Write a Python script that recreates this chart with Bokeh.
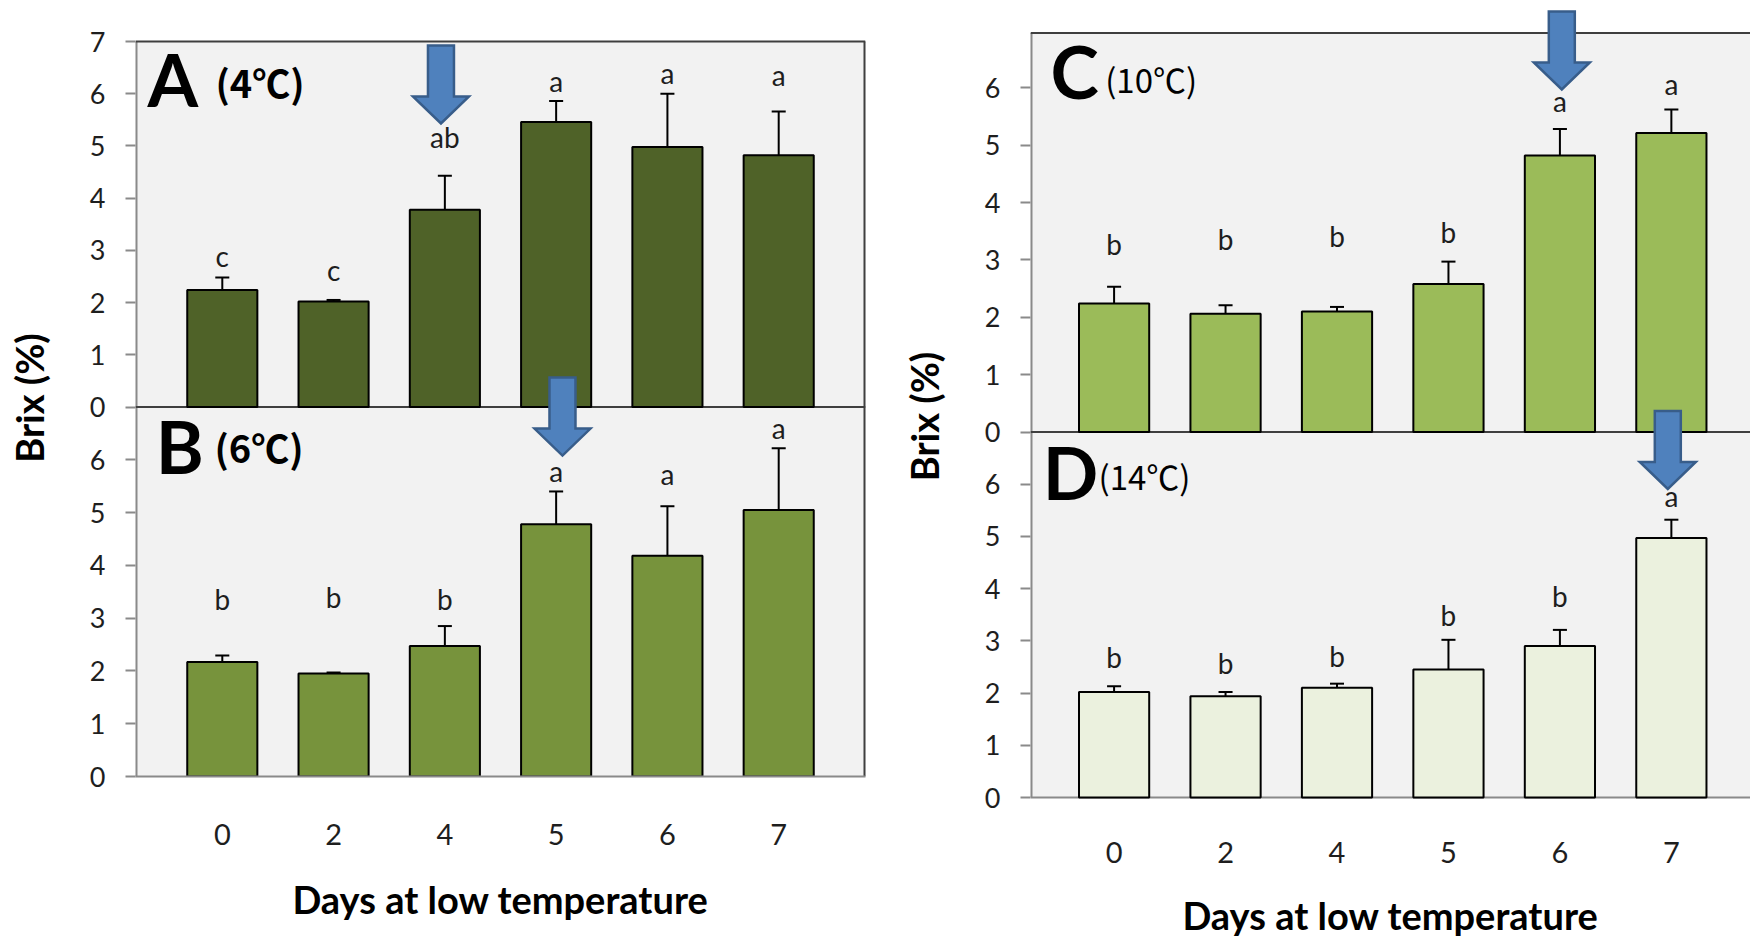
from bokeh.core.properties import value
from bokeh.embed import file_html
from bokeh.layouts import row
from bokeh.models import FixedTicker, Range1d
from bokeh.plotting import figure
from bokeh.resources import INLINE

# Days at low temperature (categories shared by all panels)
days = ["0", "2", "4", "5", "6", "7"]

# Mean Brix (%) with its error, plus significance groups, per storage temperature
brix_4C = [2.24, 2.02, 3.78, 5.46, 4.98, 4.82]
err_4C = [0.24, 0.03, 0.65, 0.40, 1.02, 0.84]
sig_4C = ["c", "c", "ab", "a", "a", "a"]

brix_6C = [2.17, 1.95, 2.47, 4.78, 4.18, 5.05]
err_6C = [0.12, 0.02, 0.38, 0.62, 0.94, 1.17]
sig_6C = ["b", "b", "b", "a", "a", "a"]

brix_10C = [2.24, 2.06, 2.10, 2.58, 4.82, 5.21]
err_10C = [0.29, 0.15, 0.08, 0.39, 0.46, 0.41]
sig_10C = ["b", "b", "b", "b", "a", "a"]

brix_14C = [2.02, 1.94, 2.10, 2.45, 2.90, 4.97]
err_14C = [0.11, 0.08, 0.08, 0.57, 0.31, 0.35]
sig_14C = ["b", "b", "b", "b", "b", "a"]

# Baselines of the significance letters (Brix units of each panel)
sig_y_4C = [2.68, 2.42, 4.96, 6.03, 6.19, 6.14]
sig_y_6C = [3.16, 3.19, 3.16, 5.58, 5.53, 6.40]
sig_y_10C = [3.08, 3.18, 3.22, 3.29, 5.58, 5.87]
sig_y_14C = [2.48, 2.36, 2.51, 3.28, 3.65, 5.56]

# ---- styling -------------------------------------------------------------
CANVAS_H = 937
FONT = "Lato"
SUB_FONT = "Noto Sans CJK KR"
INK = "#1e1e1e"
DARK = "#3f3f3f"
GRAY = "#8a8a8a"
PANEL_BG = "#f2f2f2"
ARROW_FILL = "#4f81bd"
ARROW_EDGE = "#385d8a"
BAR_W = 0.63
CAP_HALF = 0.063
# em offset between a text's anchor point and its baseline, per font
BASELINE_SHIFT = {FONT: 0.39, SUB_FONT: 0.436}


def build_column(x_left, width, frame_left, frame_right, frame_top, frame_bottom,
                 x_start, x_end, panels, tick_standoff, ytitle_standoff,
                 xtitle_standoff, bottom_on_edge):
    frame_w = frame_right - frame_left
    frame_h = frame_bottom - frame_top
    x_ppu = frame_w / (x_end - x_start)

    p = figure(
        title=None,
        frame_width=frame_w, frame_height=frame_h,
        frame_align=False,
        min_border_left=frame_left - x_left,
        min_border_right=x_left + width - frame_right,
        min_border_top=frame_top,
        min_border_bottom=CANVAS_H - frame_bottom,
        x_range=Range1d(x_start, x_end),
        y_range=Range1d(0, frame_h),
        output_backend="svg", toolbar_location=None,
        background_fill_color="white", border_fill_color="white",
        outline_line_color=None,
    )
    p.grid.visible = False

    xs = list(range(len(days)))
    extra = {}
    tick_pos, tick_lbl = [], {}
    for pn in panels:
        ppu = (pn["y_bottom"] - pn["y_top"]) / pn["vmax"]
        zero = frame_bottom - pn["y_bottom"]
        pn["ppu"] = ppu
        extra[pn["key"]] = Range1d(-zero / ppu, (frame_h - zero) / ppu)
        for k in range(pn["nticks"]):
            pos = round(zero + k * ppu, 3)
            tick_pos.append(pos)
            tick_lbl[pos] = str(k)
    p.extra_y_ranges = extra

    def lift(size_px, pn, font=FONT):
        return BASELINE_SHIFT[font] * size_px / pn["ppu"]

    # panel backgrounds and frame lines
    for pn in panels:
        p.quad(left=[x_start], right=[x_end], bottom=[0], top=[pn["vmax"]],
               y_range_name=pn["key"], fill_color=PANEL_BG, line_color=None)
    top, bot = panels
    for pn in panels:
        p.segment(x0=[x_start], y0=[0], x1=[x_start], y1=[pn["vmax"]],
                  y_range_name=pn["key"], line_color=GRAY, line_width=4)
    if not bottom_on_edge:
        p.segment(x0=[x_start], y0=[0], x1=[x_end], y1=[0],
                  y_range_name=bot["key"], line_color=GRAY, line_width=2)
    p.segment(x0=[x_start], y0=[top["vmax"]], x1=[x_end], y1=[top["vmax"]],
              y_range_name=top["key"], line_color=DARK, line_width=2)
    p.segment(x0=[x_start], y0=[0], x1=[x_end], y1=[0],
              y_range_name=top["key"], line_color=DARK, line_width=2)
    if x_left + width > frame_right:
        p.segment(x0=[x_end], y0=[0], x1=[x_end], y1=[top["vmax"]],
                  y_range_name=top["key"], line_color=DARK, line_width=4)
        p.segment(x0=[x_end], y0=[0], x1=[x_end], y1=[bot["vmax"]],
                  y_range_name=bot["key"], line_color=DARK, line_width=4)

    for pn in panels:
        key = pn["key"]
        tops = [m + e for m, e in zip(pn["means"], pn["errs"])]
        p.vbar(x=xs, width=BAR_W, bottom=0, top=pn["means"], y_range_name=key,
               fill_color=pn["fill"], line_color="black", line_width=2)
        p.segment(x0=xs, y0=pn["means"], x1=xs, y1=tops, y_range_name=key,
                  line_color="black", line_width=2)
        p.segment(x0=[x - CAP_HALF for x in xs], y0=tops,
                  x1=[x + CAP_HALF for x in xs], y1=tops, y_range_name=key,
                  line_color="black", line_width=2)
        p.text(x=xs, y=[v + lift(28, pn) for v in pn["sig_y"]], text=pn["sig"],
               y_range_name=key, text_align="center", text_baseline="alphabetic",
               text_font=value(FONT), text_font_size="28px", text_color=INK)
        lx, ly = pn["letter_at"]
        p.text(x=[lx], y=[ly + lift(73, pn)], text=[pn["letter"]],
               y_range_name=key, text_align="left", text_baseline="alphabetic",
               text_font=value(FONT), text_font_size="73px",
               text_font_style="bold", text_color="black")
        sx, sy = pn["sub_at"]
        fs = pn["sub_size"]
        p.text(x=[sx], y=[sy + lift(fs, pn, SUB_FONT)], text=[pn["sub"]],
               y_range_name=key, text_align="left", text_baseline="alphabetic",
               text_font=value(SUB_FONT), text_font_size=f"{fs}px",
               text_font_style="bold" if pn["sub_bold"] else "normal",
               text_color="black")

    # highlight arrows, drawn last so they sit over neighbouring panels
    for pn in panels:
        ax, tip = pn["arrow"]
        ppu = pn["ppu"]
        head, length = 27 / ppu, 78 / ppu
        sh, hh = 13 / x_ppu, 28 / x_ppu
        p.patch(x=[ax - sh, ax + sh, ax + sh, ax + hh, ax, ax - hh, ax - sh],
                y=[tip + length, tip + length, tip + head, tip + head, tip,
                   tip + head, tip + head],
                y_range_name=pn["key"], fill_color=ARROW_FILL,
                line_color=ARROW_EDGE, line_width=2.5, line_join="miter")

    yax = p.yaxis[0]
    yax.ticker = FixedTicker(ticks=tick_pos)
    yax.major_label_overrides = tick_lbl
    yax.axis_line_color = None
    yax.major_tick_out = 10
    yax.major_tick_in = 0
    yax.major_tick_line_color = GRAY
    yax.major_tick_line_width = 2
    yax.minor_tick_line_color = None
    yax.major_label_standoff = 20
    yax.major_label_text_font = FONT
    yax.major_label_text_font_size = "27px"
    yax.major_label_text_color = INK
    yax.axis_label = "Brix (%)"
    yax.axis_label_standoff = ytitle_standoff
    yax.axis_label_text_font = FONT
    yax.axis_label_text_font_size = "38px"
    yax.axis_label_text_font_style = "bold"
    yax.axis_label_text_color = "black"

    xax = p.xaxis[0]
    xax.ticker = FixedTicker(ticks=xs)
    xax.major_label_overrides = {i: d for i, d in enumerate(days)}
    xax.axis_line_color = GRAY if bottom_on_edge else None
    xax.axis_line_width = 2
    xax.major_tick_line_color = None
    xax.major_tick_out = 0
    xax.major_tick_in = 0
    xax.minor_tick_line_color = None
    xax.major_label_standoff = tick_standoff
    xax.major_label_text_font = FONT
    xax.major_label_text_font_size = "29px"
    xax.major_label_text_color = INK
    xax.axis_label = "Days at low temperature"
    xax.axis_label_standoff = xtitle_standoff
    xax.axis_label_text_font = FONT
    xax.axis_label_text_font_size = "38px"
    xax.axis_label_text_font_style = "bold"
    xax.axis_label_text_color = "black"
    return p


left_panels = [
    dict(key="A", means=brix_4C, errs=err_4C, sig=sig_4C, sig_y=sig_y_4C,
         fill="#4f6228", y_bottom=406.5, y_top=41, vmax=7, nticks=8,
         letter="A", letter_at=(-0.672, 5.735), sub="(4℃)", sub_size=38,
         sub_at=(-0.061, 5.91), sub_bold=True, arrow=(1.965, 5.43)),
    dict(key="B", means=brix_6C, errs=err_6C, sig=sig_6C, sig_y=sig_y_6C,
         fill="#77933c", y_bottom=776, y_top=406.5, vmax=7, nticks=7,
         letter="B", letter_at=(-0.597, 5.72), sub="(6℃)", sub_size=38,
         sub_at=(-0.07, 5.93), sub_bold=True, arrow=(3.057, 6.08)),
]

right_panels = [
    dict(key="C", means=brix_10C, errs=err_10C, sig=sig_10C, sig_y=sig_y_10C,
         fill="#9bbb59", y_bottom=431.5, y_top=32.5, vmax=6.955, nticks=7,
         letter="C", letter_at=(-0.57, 5.79), sub="(10℃)", sub_size=33,
         sub_at=(-0.08, 5.895), sub_bold=False, arrow=(4.017, 5.97)),
    dict(key="D", means=brix_14C, errs=err_14C, sig=sig_14C, sig_y=sig_y_14C,
         fill="#ebf1de", y_bottom=797, y_top=431.5, vmax=7, nticks=7,
         letter="D", letter_at=(-0.64, 5.69), sub="(14℃)", sub_size=33,
         sub_at=(-0.14, 5.88), sub_bold=False, arrow=(4.968, 5.91)),
]

left = build_column(0, 885, 135, 865, 19, 776, -0.78, 5.78, left_panels,
                    tick_standoff=47, ytitle_standoff=35, xtitle_standoff=28,
                    bottom_on_edge=True)
right = build_column(885, 865, 1030, 1750, 8, 824, -0.75, 5.71, right_panels,
                     tick_standoff=17, ytitle_standoff=35, xtitle_standoff=26,
                     bottom_on_edge=False)

p = row(left, right)
open("out.html", "w").write(file_html(p, INLINE))
